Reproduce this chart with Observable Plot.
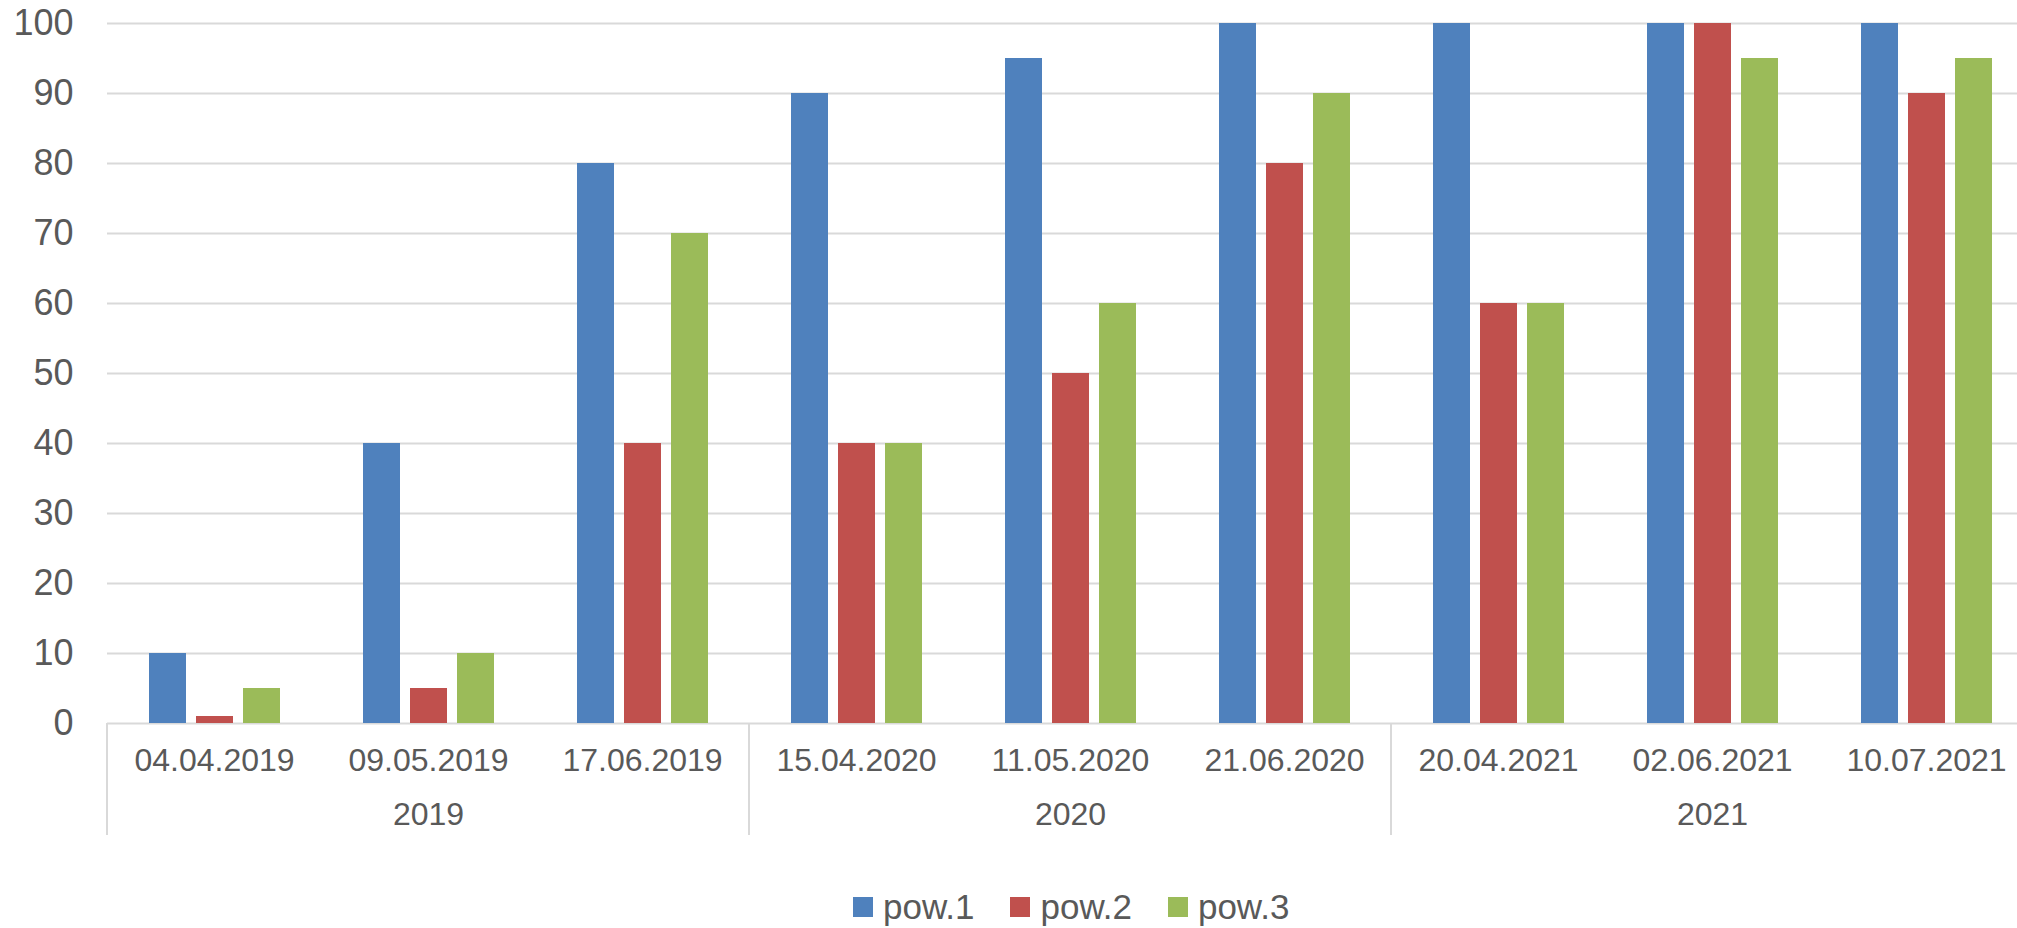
<!DOCTYPE html>
<html>
<head>
<meta charset="utf-8">
<script src="https://cdn.jsdelivr.net/npm/d3@7"></script>
<script src="https://cdn.jsdelivr.net/npm/@observablehq/plot@0.6"></script>
<style>
html, body { margin: 0; padding: 0; background: #fff; overflow: hidden; }
#chart { position: relative; width: 2033px; height: 928px; font-family: "Liberation Sans", Arial, sans-serif; }
#legend { position: absolute; left: 853px; top: 887px; height: 40px; display: flex; justify-content: flex-start; align-items: center; gap: 36px; font-size: 35px; color: #595959; white-space: nowrap; }
.item { display: flex; align-items: center; gap: 10px; }
.sw { width: 20px; height: 20px; display: inline-block; }
</style>
</head>
<body>
<div id="chart"><div id="legend"></div></div>
<script>
// ---- data ----
const dates = ["04.04.2019", "09.05.2019", "17.06.2019", "15.04.2020", "11.05.2020", "21.06.2020", "20.04.2021", "02.06.2021", "10.07.2021"];
const years = ["2019", "2019", "2019", "2020", "2020", "2020", "2021", "2021", "2021"];
const seriesNames = ["pow.1", "pow.2", "pow.3"];
const pow1 = [10, 40, 80, 90, 95, 100, 100, 100, 100];
const pow2 = [1, 5, 40, 40, 50, 80, 60, 100, 90];
const pow3 = [5, 10, 70, 40, 60, 90, 60, 95, 95];
const colors = ["#4f81bd", "#c0504d", "#9bbb59"];
const yTicks = [0, 10, 20, 30, 40, 50, 60, 70, 80, 90, 100];

// ---- table ----
const seriesValues = [pow1, pow2, pow3];
const rows = [];
dates.forEach((d, i) => {
  seriesNames.forEach((s, j) => rows.push({date: d, year: years[i], series: s, value: seriesValues[j][i]}));
});
const yearList = Array.from(new Set(years));
const yearLabelRows = yearList.map(yr => {
  const ds = dates.filter((d, i) => years[i] === yr);
  return {date: ds[Math.floor(ds.length / 2)], year: yr, first: ds[0]};
});

const plot = Plot.plot({
  width: 2033,
  height: 860,
  marginLeft: 107,
  marginRight: 0,
  marginTop: 23,
  marginBottom: 137,
  style: {fontFamily: "'Liberation Sans', Arial, sans-serif", fontSize: "32px", color: "#595959", background: "white", overflow: "visible"},
  fx: {domain: dates, padding: 0, axis: "bottom", tickSize: 0, tickPadding: 25, label: null},
  x: {domain: seriesNames, paddingInner: 0.22, paddingOuter: 0.863, axis: null},
  y: {domain: [0, 100], ticks: yTicks, tickSize: 0, tickPadding: 34, label: null, grid: false},
  color: {domain: seriesNames, range: colors},
  marks: [
    Plot.ruleY(yTicks, {stroke: "#d9d9d9", strokeWidth: 2}),
    Plot.barY(rows, {fx: "date", x: "series", y: "value", fill: "series"}),
    Plot.text(yearLabelRows, {fx: "date", text: "year", frameAnchor: "bottom", dy: 101, fontSize: 32, fill: "#595959"})
  ]
});

const chart = document.getElementById("chart");
chart.insertBefore(plot, chart.firstChild);

// y tick labels slightly larger
d3.select(plot).selectAll('g[aria-label^="y-axis"]').style("font-size", "36px");

// year group separators, positioned from the plot's own scales
const fxs = plot.scale("fx");
const ys = plot.scale("y");
const y0 = ys.apply(0);
d3.select(plot).append("g").attr("aria-label", "year separators")
  .selectAll("line").data(yearLabelRows).join("line")
  .attr("x1", d => fxs.apply(d.first)).attr("x2", d => fxs.apply(d.first))
  .attr("y1", y0).attr("y2", y0 + 112)
  .attr("stroke", "#d9d9d9").attr("stroke-width", 2);

// legend
const legend = d3.select("#legend");
seriesNames.forEach((s, i) => {
  const it = legend.append("div").attr("class", "item");
  it.append("span").attr("class", "sw").style("background", colors[i]);
  it.append("span").text(s);
});
</script>
</body>
</html>
